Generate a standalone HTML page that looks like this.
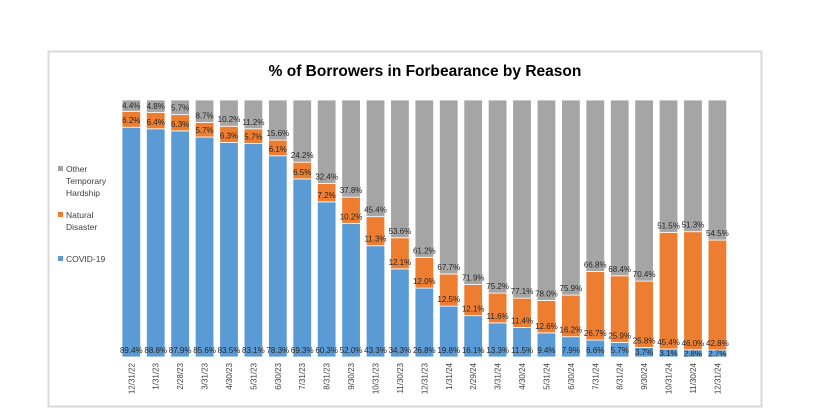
<!DOCTYPE html>
<html><head><meta charset="utf-8"><style>
body{margin:0;background:#fff;width:830px;height:412px;overflow:hidden;font-family:"Liberation Sans",sans-serif}
</style></head><body>
<svg id="s" width="830" height="412" xmlns="http://www.w3.org/2000/svg" font-family="Liberation Sans, sans-serif">
<rect x="48.5" y="51.5" width="713" height="355" fill="#fff" stroke="#d9d9d9" stroke-width="2"/>
<text x="425" y="76" text-anchor="middle" font-size="15.5" font-weight="bold" fill="#000">% of Borrowers in Forbearance by Reason</text>
<rect x="58" y="166" width="5" height="5" fill="#A5A5A5"/>
<text x="66" y="172" font-size="8.5" fill="#404040">Other</text>
<text x="66" y="184" font-size="8.5" fill="#404040">Temporary</text>
<text x="66" y="196" font-size="8.5" fill="#404040">Hardship</text>
<rect x="58" y="212" width="5" height="5" fill="#ED7D31"/>
<text x="66" y="218" font-size="8.5" fill="#404040">Natural</text>
<text x="66" y="230" font-size="8.5" fill="#404040">Disaster</text>
<rect x="58" y="256" width="5" height="5" fill="#5B9BD5"/>
<text x="66" y="262" font-size="8.5" fill="#404040">COVID-19</text>
<g id="g"></g>
</svg>
<script>
(function(){
const d="12/31/22,1/31/23,2/28/23,3/31/23,4/30/23,5/31/23,6/30/23,7/31/23,8/31/23,9/30/23,10/31/23,11/30/23,12/31/23,1/31/24,2/29/24,3/31/24,4/30/24,5/31/24,6/30/24,7/31/24,8/31/24,9/30/24,10/31/24,11/30/24,12/31/24".split(",");
const c=[89.4,88.8,87.9,85.6,83.5,83.1,78.3,69.3,60.3,52.0,43.3,34.3,26.8,19.8,16.1,13.3,11.5,9.4,7.9,6.6,5.7,3.7,3.1,2.8,2.7];
const n=[6.2,6.4,6.3,5.7,6.3,5.7,6.1,6.5,7.2,10.2,11.3,12.1,12.0,12.5,12.1,11.6,11.4,12.6,16.2,26.7,25.9,25.8,45.4,46.0,42.8];
const o=[4.4,4.8,5.7,8.7,10.2,11.2,15.6,24.2,32.4,37.8,45.4,53.6,61.2,67.7,71.9,75.2,77.1,78.0,75.9,66.8,68.4,70.4,51.5,51.3,54.5];
const yTop=100,yBot=357,H=yBot-yTop,W=18.6,pitch=24.42,x0=122;
let h="";
for(let i=0;i<25;i++){
 const x=x0+i*pitch,cx=x+W/2;
 const sum=c[i]+n[i]+o[i];
 let yb=yBot;
 [[c[i],"#5B9BD5"],[n[i],"#ED7D31"],[o[i],"#A5A5A5"]].forEach(function(p){
  const v=p[0],col=p[1];
  const hh=v/sum*H, yt=yb-hh;
  h+='<rect x="'+x+'" y="'+yt+'" width="'+W+'" height="'+hh+'" fill="'+col+'" stroke="#fff" stroke-width="0.8"/>';
  let ly=yb-4; if(hh<13) ly=yt+hh/2+3;
  h+='<text x="'+cx+'" y="'+ly+'" text-anchor="middle" font-size="8" fill="#262626">'+v.toFixed(1)+'%</text>';
  yb=yt;
 });
 h+='<text transform="translate('+(cx+3)+',363) rotate(-90)" text-anchor="end" font-size="8" fill="#404040">'+d[i]+'</text>';
}
document.getElementById("g").innerHTML=h;
})();
</script>
</body></html>
